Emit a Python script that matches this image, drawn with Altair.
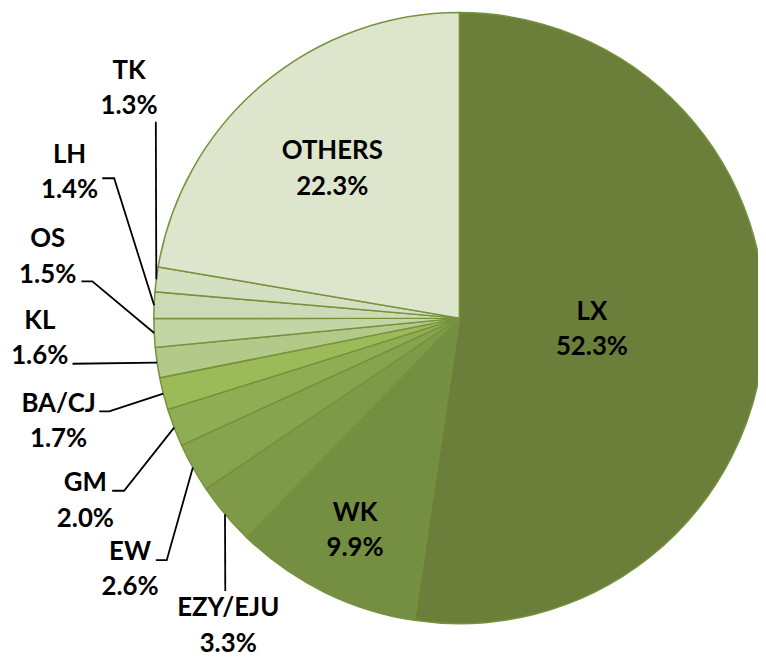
import math
import altair as alt
import pandas as pd

# ---------------- data ----------------
carriers = ["LX", "WK", "EZY/EJU", "EW", "GM", "BA/CJ", "KL", "OS", "LH", "TK", "OTHERS"]
shares = [52.3, 9.9, 3.3, 2.6, 2.0, 1.7, 1.6, 1.5, 1.4, 1.3, 22.3]
colors = ["#6B7F3B", "#758F42", "#7E9A48", "#86A34D", "#8FAD52", "#9BBB59",
          "#B2C98A", "#C3D4A5", "#CCDAB6", "#D5E0C3", "#DDE6CD"]

# ---------------- layout (pixels, relative to pie centre, y up) ----------------
W, H = 756, 650
CX, CY = 455, 310
R = 308
LINE_GAP = 35.5
inside_radius = {"LX": 0.435, "WK": 0.77, "OTHERS": 0.645}
outside_label_pos = {
    "TK": (-333, 233), "LH": (-393, 148), "OS": (-415, 63), "KL": (-423, -19),
    "BA/CJ": (-404, -103), "GM": (-377, -183), "EW": (-332, -252),
    "EZY/EJU": (-233, -309),
}
leader_start = {
    "TK": [(-306, 198)], "LH": [(-360, 141), (-348, 141)],
    "OS": [(-381, 37), (-370, 37)], "KL": [(-390, -46)],
    "BA/CJ": [(-363, -94), (-353, -94)], "GM": [(-350, -174), (-338, -174)],
    "EW": [(-306, -244), (-295, -244)], "EZY/EJU": [(-236, -275)],
}

total = sum(shares)
pie = pd.DataFrame({"carrier": carriers, "share": shares, "idx": list(range(len(carriers)))})

label_rows, line_rows = [], []
cum = 0.0
for name, s in zip(carriers, shares):
    mid = (cum + s / 2) / total * 2 * math.pi
    cum += s
    ex, ey = R * math.sin(mid), R * math.cos(mid)
    if name in inside_radius:
        f = inside_radius[name]
        lx, ly = ex * f, ey * f
    else:
        lx, ly = outside_label_pos[name]
        pts = leader_start[name] + [(ex, ey)]
        for k, (px, py) in enumerate(pts):
            line_rows.append({"carrier": name, "k": k, "x": px, "y": py})
    label_rows.append({"txt": name, "x": lx, "y": ly + LINE_GAP / 2})
    label_rows.append({"txt": f"{s:.1f}%", "x": lx, "y": ly - LINE_GAP / 2})

labels = pd.DataFrame(label_rows)
lines = pd.DataFrame(line_rows)

xs = alt.Scale(domain=[-CX, W - CX], nice=False, zero=False)
ys = alt.Scale(domain=[-(H - CY), CY], nice=False, zero=False)

arcs = alt.Chart(pie).mark_arc(radius=R, stroke="#76923C", strokeWidth=1.5).encode(
    theta=alt.Theta("share:Q", stack=True),
    order=alt.Order("idx:Q"),
    color=alt.Color("carrier:N", scale=alt.Scale(domain=carriers, range=colors), legend=None),
    x=alt.XDatum(0, type="quantitative", scale=xs, axis=None),
    y=alt.YDatum(0, type="quantitative", scale=ys, axis=None),
)

leaders = alt.Chart(lines).mark_line(color="black", strokeWidth=1.8).encode(
    x=alt.X("x:Q", scale=xs, axis=None),
    y=alt.Y("y:Q", scale=ys, axis=None),
    detail="carrier:N",
    order="k:Q",
)

texts = alt.Chart(labels).mark_text(
    font="Lato", fontWeight="bold", fontSize=26,
    align="center", baseline="middle", color="black", dy=1.5,
).encode(
    x=alt.X("x:Q", scale=xs, axis=None),
    y=alt.Y("y:Q", scale=ys, axis=None),
    text="txt:N",
)

chart = alt.layer(arcs, leaders, texts).properties(
    width=W, height=H, padding=0, autosize="none", background="white"
).configure_view(stroke=None)

chart.save("out.html", embed_options={"renderer": "svg", "actions": False})
